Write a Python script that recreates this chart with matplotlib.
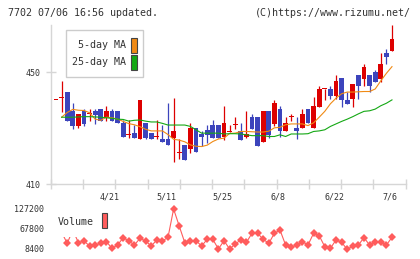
import numpy as np
import matplotlib
matplotlib.use("Agg")
import matplotlib.pyplot as plt
import matplotlib.transforms as mtransforms
from matplotlib.patches import Rectangle

# ── Data (one entry per trading day) ──────────────────────────────────────────

DATE_LABELS = ["4/21", "5/11", "5/25", "6/8", "6/22", "7/6"]
LABEL_IDX   = [10, 20, 30, 40, 50, 60]

OPEN  = [440.0, 440.6, 443.0, 436.2, 430.9, 436.2, 435.0, 436.2, 436.9, 433.9,
         436.2, 436.2, 432.0, 427.6, 428.1, 426.1, 432.0, 428.1, 426.8, 426.1,
         426.1, 426.6, 421.1, 423.9, 422.5, 430.0, 427.9, 429.3, 431.2, 431.2,
         426.8, 428.7, 431.1, 428.9, 426.7, 433.9, 433.9, 424.9, 436.2, 431.5,
         436.9, 428.8, 433.8, 430.2, 430.0, 436.9, 430.0, 437.7, 443.9, 444.0,
         441.6, 448.1, 440.1, 440.5, 449.0, 447.6, 449.0, 450.0, 447.6, 457.0,
         457.7]
HIGH  = [440.1, 446.9, 443.0, 438.9, 435.1, 436.9, 436.9, 436.9, 436.9, 438.0,
         436.9, 436.2, 432.9, 432.9, 431.1, 440.2, 432.0, 428.1, 432.9, 431.1,
         439.0, 440.8, 426.1, 423.9, 431.8, 430.0, 429.0, 431.0, 433.0, 431.2,
         437.9, 431.2, 433.9, 432.0, 436.2, 435.1, 433.9, 436.2, 436.2, 440.1,
         438.0, 433.9, 435.1, 433.9, 436.9, 436.9, 441.1, 445.2, 444.0, 445.2,
         449.0, 448.1, 443.1, 445.7, 449.0, 453.0, 449.0, 450.8, 456.8, 458.2,
         466.9]
LOW   = [440.0, 435.9, 432.7, 429.8, 429.9, 430.9, 432.7, 431.5, 432.7, 432.7,
         432.7, 431.8, 426.7, 426.6, 426.6, 426.1, 426.1, 426.1, 426.1, 425.1,
         423.9, 417.7, 419.1, 418.6, 421.1, 421.6, 423.7, 424.5, 426.6, 426.6,
         425.8, 428.7, 429.6, 425.8, 426.4, 429.6, 423.7, 424.9, 426.4, 430.8,
         426.8, 428.8, 432.4, 426.1, 430.0, 431.8, 430.0, 437.7, 439.9, 440.5,
         440.5, 437.7, 438.7, 437.7, 440.5, 444.9, 442.9, 446.6, 446.6, 452.9,
         457.7]
CLOSE = [440.1, 440.7, 432.7, 430.9, 435.1, 431.5, 435.1, 434.8, 432.7, 436.2,
         432.7, 431.8, 426.7, 427.7, 426.6, 440.2, 426.6, 426.1, 426.9, 425.1,
         423.9, 429.0, 421.2, 418.6, 430.0, 421.6, 426.7, 427.6, 426.6, 426.6,
         432.0, 429.0, 431.2, 425.8, 427.9, 429.6, 423.7, 436.2, 427.6, 438.9,
         428.8, 432.0, 433.9, 428.8, 435.0, 431.8, 438.0, 444.0, 444.0, 441.6,
         446.9, 439.9, 438.7, 445.7, 444.9, 451.8, 444.9, 446.6, 453.0, 455.6,
         461.9]

MA5  = [np.nan,
        433.9, 435.6, 436.7, 436.4, 436.3, 435.5, 433.2, 432.8, 433.9, 433.7,
        433.2, 432.4, 431.6, 431.2, 430.5, 429.6, 429.0, 429.0, 429.0, 427.7,
        426.0, 425.7, 425.1, 424.0, 423.5, 423.4, 423.9, 425.2, 426.1, 426.4,
        428.1, 428.2, 428.8, 428.8, 428.7, 428.6, 428.6, 428.9, 430.1, 430.3,
        431.2, 431.5, 431.5, 431.5, 430.9, 431.9, 433.9, 436.0, 438.7, 440.7,
        442.3, 442.9, 442.9, 443.0, 443.1, 443.1, 444.0, 446.9, 449.6, 452.0]
MA25 = [np.nan,
        433.9, 433.9, 433.9, 434.0, 434.1, 434.1, 434.0, 433.9, 433.7, 433.5,
        433.2, 433.1, 432.5, 432.8, 432.9, 432.5, 432.2, 432.2, 431.7, 431.1,
        431.1, 431.1, 431.1, 430.6, 429.4, 428.2, 428.2, 428.2, 428.2, 427.9,
        428.0, 428.0, 427.9, 427.6, 427.3, 427.3, 427.3, 427.0, 427.0, 427.6,
        427.0, 427.9, 427.9, 427.9, 428.0, 428.8, 429.0, 429.4, 430.6, 431.5,
        432.4, 433.2, 434.1, 435.1, 436.0, 436.2, 436.8, 438.0, 438.9, 440.1]

VOLUME = [56000, 58000, 25300, 64800, 27100, 32200, 17300, 20300, 25300, 30100,
          10500, 20300, 42000, 32200, 20300, 40200, 32200, 17300, 35100, 32200,
          43100, 127200, 76700, 27100, 32200, 33100, 17300, 37200, 37200, 8400,
          33100, 8400, 23300, 35100, 28300, 55000, 55000, 37200, 25300, 55000,
          64800, 20300, 13400, 20300, 30100, 20300, 55000, 47900, 15300, 10500,
          35100, 28300, 7400, 17300, 20300, 42000, 20300, 28300, 28300, 20300,
          43100]
VOL_TICKS = [8400, 67800, 127200]
PRICE_TICKS = [410, 450]

# ── Style ─────────────────────────────────────────────────────────────────────

W, H     = 420, 259
DPI      = 100
UP       = "#dd0000"
DOWN     = "#3c44bc"
MA5_C    = "#f08a14"
MA25_C   = "#14a814"
VOL_C    = "#ff5c5c"
AXIS_C   = "#d6d6d6"
TEXT_C   = "#333333"
FONT     = "DejaVu Sans Mono"

plt.rcParams["font.family"] = FONT


def fx(px):
    return px / W


def fy(py):
    return 1 - py / H


fig = plt.figure(figsize=(W / DPI, H / DPI), dpi=DPI)
fig.patch.set_facecolor("white")

n = len(CLOSE)
idx = np.arange(n)
XLIM = (-0.95, 62.45)

# ── Price panel ───────────────────────────────────────────────────────────────

ax = fig.add_axes([fx(50.7), fy(184), fx(405.7) - fx(50.7), fy(25) - fy(184)])
ax.set_facecolor("white")

o = np.array(OPEN)
c = np.array(CLOSE)
colors = [UP if cc >= oo else DOWN for oo, cc in zip(o, c)]
bottoms = np.minimum(o, c)
heights = np.maximum(np.abs(c - o), 0.4)

ax.vlines(idx, LOW, HIGH, colors=colors, linewidth=0.9, zorder=2)
ax.bar(idx, heights, bottom=bottoms, width=0.86, color=colors,
       linewidth=0, zorder=3)

ax.plot(idx, MA5, color=MA5_C, linewidth=0.8, zorder=4)
ax.plot(idx, MA25, color=MA25_C, linewidth=0.8, zorder=4)

ax.set_xlim(*XLIM)
ax.set_ylim(410, 466.9)

for side in ["top", "right"]:
    ax.spines[side].set_visible(False)
for side in ["left", "bottom"]:
    ax.spines[side].set_color(AXIS_C)
    ax.spines[side].set_linewidth(1.0)

ax.set_xticks(np.linspace(XLIM[0], XLIM[1], 12))
ax.set_xticklabels([])
ax.set_yticks(PRICE_TICKS)
ax.set_yticklabels([str(t) for t in PRICE_TICKS])
ax.tick_params(axis="both", direction="inout", length=6.5, width=1.0,
               color=AXIS_C, labelsize=6, labelcolor=TEXT_C)
ax.tick_params(axis="y", pad=4.2)

# date labels between the panels
trans = mtransforms.blended_transform_factory(ax.transData, fig.transFigure)
for i, lab in zip(LABEL_IDX, DATE_LABELS):
    ax.text(i - 0.35, fy(197.5), lab, transform=trans, ha="center", va="center",
            fontsize=6, color=TEXT_C)

# ── Volume panel ──────────────────────────────────────────────────────────────

axv = fig.add_axes([fx(50.7), fy(252), fx(405.7) - fx(50.7), fy(205) - fy(252)])
axv.set_facecolor("none")
axv.plot(idx, VOLUME, color=VOL_C, linewidth=0.8, marker="D", markersize=3.8,
         markeredgewidth=0, clip_on=False, zorder=3)
axv.set_xlim(*XLIM)
axv.set_ylim(8400 - 3 * 2970, 127200 + 4 * 2970)
for s in axv.spines.values():
    s.set_visible(False)
axv.set_xticks([])
axv.set_yticks(VOL_TICKS)
axv.set_yticklabels([str(t) for t in VOL_TICKS])
axv.tick_params(axis="y", length=0, pad=4.8, labelsize=6, labelcolor=TEXT_C)

# ── Legends (drawn as boxes on top) ───────────────────────────────────────────

fig.add_artist(Rectangle((fx(65.7), fy(77.3)), fx(143.3) - fx(65.7), fy(30) - fy(77.3),
                         transform=fig.transFigure, facecolor="white",
                         edgecolor="#cccccc", linewidth=1.0, zorder=5))
for label, col, ymid in [("5-day MA", MA5_C, 45.0), ("25-day MA", MA25_C, 62.0)]:
    fig.text(fx(126), fy(ymid), label, ha="right", va="center", fontsize=7.2,
             color=TEXT_C, zorder=6)
    fig.add_artist(Rectangle((fx(131), fy(ymid + 7.5)), fx(6.3), fy(ymid - 7.5) - fy(ymid + 7.5),
                             transform=fig.transFigure, facecolor=col,
                             edgecolor="#444444", linewidth=0.8, zorder=6))

fig.add_artist(Rectangle((fx(52), fy(237)), fx(112) - fx(52), fy(206) - fy(237),
                         transform=fig.transFigure, facecolor="white",
                         edgecolor="none", zorder=5))
fig.text(fx(58), fy(222), "Volume", ha="left", va="center", fontsize=7.2,
         color=TEXT_C, zorder=6)
fig.add_artist(Rectangle((fx(101.7), fy(228)), fx(5.6), fy(213) - fy(228),
                         transform=fig.transFigure, facecolor=VOL_C,
                         edgecolor="#444444", linewidth=0.8, zorder=6))

# ── Header ────────────────────────────────────────────────────────────────────

fig.text(fx(8), fy(12.5), "7702 07/06 16:56 updated.", ha="left", va="center",
         fontsize=7.2, color=TEXT_C)
fig.text(fx(411), fy(12.5), "(C)https://www.rizumu.net/", ha="right", va="center",
         fontsize=7.2, color=TEXT_C)

fig.savefig("out.png", dpi=DPI, facecolor="white")
